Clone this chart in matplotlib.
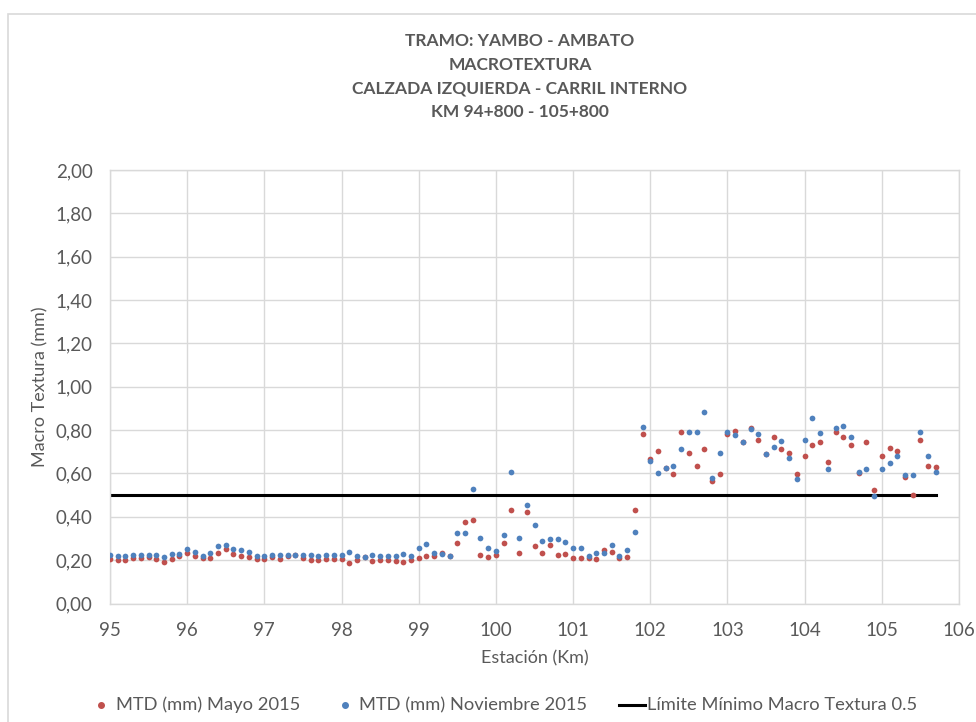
import numpy as np
import matplotlib
matplotlib.use("Agg")
import matplotlib.pyplot as plt
from matplotlib.patches import Rectangle
from matplotlib.lines import Line2D

plt.rcParams['font.family'] = ['Lato', 'DejaVu Sans']

# Stations every 100 m, km 95.0 to 105.7
estacion = np.round(np.arange(95.0, 105.71, 0.1), 1)

mtd_mayo_2015 = [
    0.207, 0.200, 0.200, 0.210, 0.210, 0.215, 0.207, 0.192, 0.204, 0.218,
    0.235, 0.218, 0.212, 0.210, 0.235, 0.251, 0.229, 0.218, 0.215, 0.203,
    0.203, 0.215, 0.207, 0.218, 0.225, 0.212, 0.200, 0.200, 0.203, 0.204,
    0.203, 0.189, 0.200, 0.215, 0.196, 0.200, 0.200, 0.196, 0.193, 0.201,
    0.212, 0.221, 0.218, 0.234, 0.218, 0.280, 0.377, 0.384, 0.223, 0.215,
    0.224, 0.280, 0.432, 0.235, 0.422, 0.265, 0.235, 0.271, 0.226, 0.227,
    0.209, 0.212, 0.209, 0.206, 0.246, 0.238, 0.212, 0.215, 0.432, 0.783,
    0.668, 0.702, 0.626, 0.596, 0.789, 0.696, 0.634, 0.712, 0.563, 0.596,
    0.780, 0.794, 0.746, 0.809, 0.756, 0.690, 0.770, 0.712, 0.696, 0.596,
    0.682, 0.732, 0.747, 0.651, 0.789, 0.766, 0.729, 0.603, 0.747, 0.523,
    0.679, 0.718, 0.705, 0.583, 0.500, 0.756, 0.636, 0.631,
]

mtd_noviembre_2015 = [
    0.226, 0.218, 0.218, 0.226, 0.224, 0.226, 0.223, 0.215, 0.229, 0.229,
    0.252, 0.238, 0.218, 0.232, 0.263, 0.272, 0.252, 0.249, 0.237, 0.220,
    0.220, 0.226, 0.223, 0.226, 0.226, 0.223, 0.223, 0.218, 0.223, 0.224,
    0.224, 0.237, 0.218, 0.215, 0.226, 0.221, 0.220, 0.220, 0.229, 0.220,
    0.255, 0.275, 0.235, 0.230, 0.218, 0.323, 0.326, 0.529, 0.300, 0.258,
    0.243, 0.316, 0.608, 0.300, 0.455, 0.362, 0.288, 0.297, 0.297, 0.282,
    0.258, 0.255, 0.218, 0.235, 0.235, 0.268, 0.220, 0.246, 0.329, 0.812,
    0.659, 0.600, 0.623, 0.634, 0.712, 0.792, 0.789, 0.883, 0.577, 0.696,
    0.790, 0.776, 0.746, 0.803, 0.783, 0.691, 0.721, 0.752, 0.673, 0.575,
    0.753, 0.857, 0.786, 0.622, 0.811, 0.818, 0.770, 0.605, 0.622, 0.497,
    0.619, 0.648, 0.679, 0.592, 0.592, 0.792, 0.679, 0.605,
]

limite_minimo = 0.5
limite_tramo = [95.0, 105.7]

y_ticks = [0.0, 0.2, 0.4, 0.6, 0.8, 1.0, 1.2, 1.4, 1.6, 1.8, 2.0]
y_labels = ["0,00", "0,20", "0,40", "0,60", "0,80", "1,00",
            "1,20", "1,40", "1,60", "1,80", "2,00"]
x_ticks = [95, 96, 97, 98, 99, 100, 101, 102, 103, 104, 105, 106]

titulo = ("TRAMO: YAMBO - AMBATO\nMACROTEXTURA\n"
          "CALZADA IZQUIERDA - CARRIL INTERNO\nKM 94+800 - 105+800")

RED = "#C0504D"
BLUE = "#4F81BD"
GRID = "#D9D9D9"
TEXT = "#595959"

W, H = 976, 722
fig = plt.figure(figsize=(W / 100, H / 100), dpi=100)


def fx(px):
    return px / W


def fy(py):
    return 1 - py / H


# chart border
fig.patches.append(Rectangle((fx(8), -0.1), 1.2, 1.1 - 14 / H,
                             transform=fig.transFigure, fill=False,
                             edgecolor=GRID, linewidth=1.2))

ax = fig.add_axes([fx(110), fy(603.5), (959 - 110) / W, (603.5 - 170) / H])

ax.scatter(estacion, mtd_mayo_2015, s=17, color=RED, linewidths=0, zorder=3)
ax.scatter(estacion, mtd_noviembre_2015, s=17, color=BLUE, linewidths=0, zorder=4)
ax.plot(limite_tramo, [limite_minimo, limite_minimo], color="black", lw=2.2, zorder=2)

ax.set_xlim(95, 106)
ax.set_ylim(0, 2.0)
ax.set_xticks(x_ticks)
ax.set_xticklabels([str(v) for v in x_ticks])
ax.set_yticks(y_ticks)
ax.set_yticklabels(y_labels)
ax.grid(True, color=GRID, linewidth=1.0, zorder=0)
ax.set_axisbelow(True)
for s in ax.spines.values():
    s.set_color(GRID)
    s.set_linewidth(1.0)
ax.tick_params(length=0, labelsize=13.5, colors=TEXT)
ax.tick_params(axis="y", pad=12.5)
ax.tick_params(axis="x", pad=13.5)

ax.set_xlabel("Estación (Km)", fontsize=13, color=TEXT, labelpad=8)
ax.set_ylabel("Macro Textura (mm)", fontsize=13, color=TEXT)
ax.yaxis.label.set_va("center")
ax.yaxis.set_label_coords((40 - 110) / 849, 0.5)

fig.text(fx(520), fy(33), titulo, ha="center", va="top", fontsize=12.5,
         fontweight="bold", color=TEXT, linespacing=1.6)

# legend row
ley_y = fy(705)
ley_fs = 13.2
fig.add_artist(Line2D([fx(101)], [ley_y], marker="o", ls="none", color=RED,
                      markersize=4, transform=fig.transFigure))
fig.text(fx(116), ley_y, "MTD (mm) Mayo 2015", ha="left", va="center",
         fontsize=ley_fs, color=TEXT)
fig.add_artist(Line2D([fx(345)], [ley_y], marker="o", ls="none", color=BLUE,
                      markersize=4, transform=fig.transFigure))
fig.text(fx(359), ley_y, "MTD (mm) Noviembre 2015", ha="left", va="center",
         fontsize=ley_fs, color=TEXT)
fig.add_artist(Line2D([fx(619), fx(645)], [ley_y, ley_y], color="black", lw=2.2,
                      transform=fig.transFigure))
fig.text(fx(647), ley_y, "Límite Mínimo Macro Textura 0.5", ha="left", va="center",
         fontsize=ley_fs, color=TEXT)

fig.savefig("out.png", dpi=100)
